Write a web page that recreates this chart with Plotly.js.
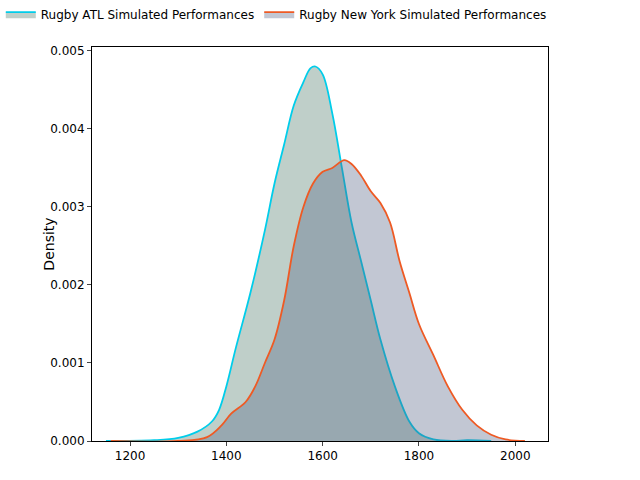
<!DOCTYPE html>
<html>
<head>
<script src="https://cdn.plot.ly/plotly-3.0.1.min.js"></script>
<style>body{margin:0}</style>
</head>
<body>
<div id="chart" style="width:640px;height:480px"></div>
<script>
// density curves
var atlX = [1150, 1250, 1300, 1340, 1370, 1385, 1400, 1420, 1450, 1480, 1500, 1520, 1540, 1560, 1575, 1585, 1600, 1620, 1640, 1660, 1680, 1700, 1720, 1750, 1780, 1800, 1830, 1870, 1900, 1950];
var atlY = [0, 0.00001, 0.00004, 0.00012, 0.00025, 0.0004, 0.0007, 0.0012, 0.0019, 0.0027, 0.0033, 0.0038, 0.0043, 0.0046, 0.00478, 0.0048, 0.0047, 0.0042, 0.0035, 0.0028, 0.0023, 0.0018, 0.0013, 0.0007, 0.00025, 0.0001, 0.00002, 0, 0.00001, 0];
var nyX = [1160, 1300, 1360, 1390, 1410, 1440, 1460, 1480, 1500, 1520, 1540, 1560, 1580, 1600, 1620, 1645, 1660, 1680, 1700, 1720, 1740, 1760, 1780, 1800, 1830, 1860, 1890, 1920, 1950, 1980, 2020];
var nyY = [0, 0, 0.00005, 0.0002, 0.00035, 0.0005, 0.0007, 0.001, 0.0013, 0.0018, 0.0025, 0.003, 0.0033, 0.00345, 0.0035, 0.0036, 0.00355, 0.0034, 0.0032, 0.00305, 0.0028, 0.0023, 0.0019, 0.0015, 0.0011, 0.0007, 0.0004, 0.0002, 0.00008, 0.00002, 0];

var atlName = 'Rugby ATL Simulated Performances';
var nyName = 'Rugby New York Simulated Performances';

var data = [
  {x: atlX, y: atlY, name: atlName, mode: 'lines', fill: 'tozeroy',
   line: {color: '#00cdea', width: 1.8, shape: 'spline'}, fillcolor: 'rgba(95,135,120,0.4)'},
  {x: nyX, y: nyY, name: nyName, mode: 'lines', fill: 'tozeroy',
   line: {color: '#ee5a24', width: 1.8, shape: 'spline'}, fillcolor: 'rgba(80,95,130,0.35)'}
];

var layout = {
  width: 640, height: 480,
  margin: {l: 92, r: 92, t: 47, b: 39, autoexpand: false},
  paper_bgcolor: 'white', plot_bgcolor: 'white',
  font: {family: 'DejaVu Sans', size: 12, color: '#000'},
  showlegend: true,
  legend: {orientation: 'h', x: -0.2, xanchor: 'left', y: 1.12, yanchor: 'top',
           font: {size: 12}, itemwidth: 30, tracegroupgap: 0},
  xaxis: {range: [1121, 2068], tickvals: [1200, 1400, 1600, 1800, 2000], showgrid: false, zeroline: false,
          showline: true, mirror: true, linecolor: '#000', ticks: 'outside', ticklen: 4},
  yaxis: {range: [0, 0.00505], tickvals: [0, 0.001, 0.002, 0.003, 0.004, 0.005], tickformat: '.3f',
          title: {text: 'Density'}, showgrid: false, zeroline: false,
          showline: true, mirror: true, linecolor: '#000', ticks: 'outside', ticklen: 4}
};

Plotly.newPlot('chart', data, layout, {displayModeBar: false});
</script>
</body>
</html>
